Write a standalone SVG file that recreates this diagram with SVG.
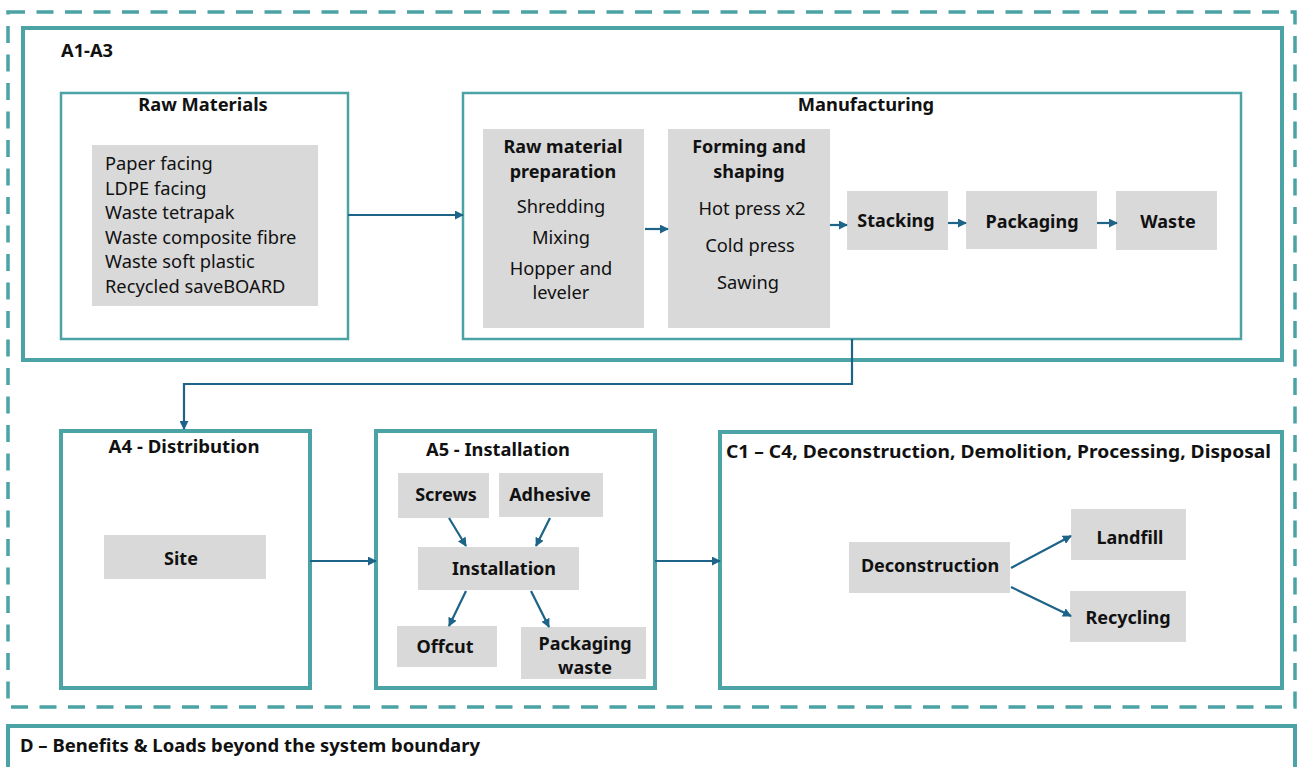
<svg xmlns="http://www.w3.org/2000/svg" width="1297" height="767" viewBox="0 0 1297 767">
<style>
text{font-family:"Noto Sans","Open Sans","Liberation Sans",sans-serif;fill:#111;}
.b{font-weight:bold;font-size:18px;}
.r{font-size:18.3px;}
.t{font-weight:bold;font-size:18.3px;}
.m{text-anchor:middle;}
.frame{fill:#fff;stroke:#4BA3A5;stroke-width:4;}
.sub{fill:#fff;stroke:#4BA3A5;stroke-width:2.5;}
.g{fill:#D9D9D9;}
.c{fill:none;stroke:#1D6488;stroke-width:2.2;}
</style>
<defs>
<marker id="ah" viewBox="0 0 10 10" refX="9" refY="5" markerWidth="9" markerHeight="9" markerUnits="userSpaceOnUse" orient="auto">
<path d="M0,0 L10,5 L0,10 z" fill="#1D6488"/>
</marker>
</defs>
<rect width="1297" height="767" fill="#fff"/>
<rect x="8" y="12" width="1287" height="695" fill="none" stroke="#4BA3A5" stroke-width="3.5" stroke-dasharray="17 11.5"/>

<g id="A1A3">
<rect class="frame" x="23" y="28" width="1259" height="332"/>
<text class="t" x="61" y="57">A1-A3</text>
</g>
<g id="rawMaterials">
<rect class="sub" x="61" y="93" width="287" height="246"/>
<text class="t m" x="203" y="111">Raw Materials</text>
<rect class="g" x="92" y="145" width="226" height="161"/>
<text class="r" x="105" y="170">Paper facing</text>
<text class="r" x="105" y="194.5">LDPE facing</text>
<text class="r" x="105" y="219">Waste tetrapak</text>
<text class="r" x="105" y="243.5">Waste composite fibre</text>
<text class="r" x="105" y="268">Waste soft plastic</text>
<text class="r" x="105" y="292.5">Recycled saveBOARD</text>
</g>
<g id="manufacturing">
<rect class="sub" x="463" y="93" width="778" height="246"/>
<text class="t m" x="866" y="111">Manufacturing</text>
</g>
<g id="rawPrep">
<rect class="g" x="483" y="129" width="161" height="199"/>
<text class="b m" x="563" y="153">Raw material</text>
<text class="b m" x="563" y="178">preparation</text>
<text class="r m" x="561" y="213">Shredding</text>
<text class="r m" x="561" y="244">Mixing</text>
<text class="r m" x="561" y="275">Hopper and</text>
<text class="r m" x="561" y="299">leveler</text>
</g>
<g id="forming">
<rect class="g" x="668" y="129" width="162" height="199"/>
<text class="b m" x="749" y="153">Forming and</text>
<text class="b m" x="749" y="178">shaping</text>
<text class="r m" x="752" y="215">Hot press x2</text>
<text class="r m" x="750" y="252">Cold press</text>
<text class="r m" x="748" y="289">Sawing</text>
</g>
<g id="stacking">
<rect class="g" x="847" y="191" width="101" height="59"/>
<text class="b m" x="896" y="227">Stacking</text>
</g>
<g id="packaging">
<rect class="g" x="966" y="191" width="131" height="58"/>
<text class="b m" x="1032" y="228">Packaging</text>
</g>
<g id="waste">
<rect class="g" x="1116" y="191" width="101" height="59"/>
<text class="b m" x="1168" y="228">Waste</text>
</g>

<g id="A4">
<rect class="frame" x="61" y="431" width="249" height="257"/>
<text class="t m" x="184" y="453" textLength="151" lengthAdjust="spacingAndGlyphs">A4 - Distribution</text>
<rect class="g" x="104" y="535" width="162" height="44"/>
<text class="b m" x="181" y="565">Site</text>
</g>
<g id="A5">
<rect class="frame" x="376" y="431" width="279" height="257"/>
<text class="t m" x="498" y="456" textLength="144" lengthAdjust="spacingAndGlyphs">A5 - Installation</text>
</g>
<g id="screws">
<rect class="g" x="398" y="473" width="91" height="45"/>
<text class="b m" x="446" y="501">Screws</text>
</g>
<g id="adhesive">
<rect class="g" x="499" y="473" width="104" height="44"/>
<text class="b m" x="550" y="501">Adhesive</text>
</g>
<g id="installation">
<rect class="g" x="418" y="547" width="161" height="43"/>
<text class="b m" x="504" y="575">Installation</text>
</g>
<g id="offcut">
<rect class="g" x="397" y="626" width="100" height="41"/>
<text class="b m" x="445" y="653">Offcut</text>
</g>
<g id="packagingWaste">
<rect class="g" x="521" y="627" width="125" height="52"/>
<text class="b m" x="585" y="650">Packaging</text>
<text class="b m" x="585" y="674">waste</text>
</g>

<g id="C1C4">
<rect class="frame" x="720" y="432" width="562" height="256"/>
<text class="t" x="726" y="458" textLength="545" lengthAdjust="spacingAndGlyphs">C1 – C4, Deconstruction, Demolition, Processing, Disposal</text>
</g>
<g id="deconstruction">
<rect class="g" x="849" y="542" width="161" height="51"/>
<text class="b m" x="930" y="572">Deconstruction</text>
</g>
<g id="landfill">
<rect class="g" x="1071" y="509" width="115" height="51"/>
<text class="b m" x="1130" y="544">Landfill</text>
</g>
<g id="recycling">
<rect class="g" x="1070" y="591" width="116" height="51"/>
<text class="b m" x="1128" y="624">Recycling</text>
</g>

<g id="D">
<rect class="frame" x="8" y="726" width="1287" height="80"/>
<text class="t" x="20" y="752" textLength="460" lengthAdjust="spacingAndGlyphs">D – Benefits &amp; Loads beyond the system boundary</text>
</g>

<g id="connectors">
<path class="c" d="M348,215 H463" marker-end="url(#ah)"/>
<path class="c" d="M645,229 H668" marker-end="url(#ah)"/>
<path class="c" d="M830,225 H847" marker-end="url(#ah)"/>
<path class="c" d="M948,223 H966" marker-end="url(#ah)"/>
<path class="c" d="M1097,223 H1117" marker-end="url(#ah)"/>
<path class="c" d="M852,339 V384 H184 V429" marker-end="url(#ah)"/>
<path class="c" d="M310,561 H376" marker-end="url(#ah)"/>
<path class="c" d="M655,561 H720" marker-end="url(#ah)"/>
<path class="c" d="M449,518 L466,546" marker-end="url(#ah)"/>
<path class="c" d="M550,518 L536,546" marker-end="url(#ah)"/>
<path class="c" d="M466,591 L449,626" marker-end="url(#ah)"/>
<path class="c" d="M531,591 L549,627" marker-end="url(#ah)"/>
<path class="c" d="M1011,568 L1071,536" marker-end="url(#ah)"/>
<path class="c" d="M1011,587 L1071,616" marker-end="url(#ah)"/>
</g>
</svg>
